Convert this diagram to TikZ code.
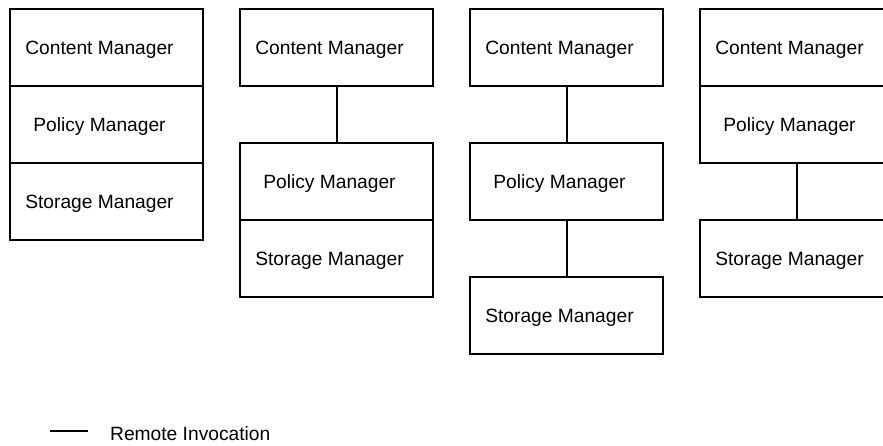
\documentclass[tikz,border=0pt]{standalone}
\usepackage{fontspec}
\setmainfont{Liberation Sans}
\usetikzlibrary{positioning}
\tikzset{layer/.style={rectangle,draw=black,line width=2pt,outer sep=0pt,inner sep=0pt,
  minimum width=193pt,minimum height=77pt,
  label={[xshift=-7pt,text height=13.7pt,text depth=0pt]center:#1}}}
\tikzstyle{link}=[draw,line width=2pt]

\begin{document}
\begin{tikzpicture}[x=1pt,y=-1pt,font=\fontsize{19.2}{23}\selectfont]
    \useasboundingbox (0,0) rectangle (883,445);

    % one process
    \node[layer=Content Manager,anchor=north west] (cm1) at (10,9) {};
    \node[layer=Policy Manager,below=0pt of cm1] (pm1) {};
    \node[layer=Storage Manager,below=0pt of pm1] (sm1) {};

    % content manager apart
    \node[layer=Content Manager,anchor=north west] (cm2) at (240,9) {};
    \node[layer=Policy Manager,below=57pt of cm2] (pm2) {};
    \node[layer=Storage Manager,below=0pt of pm2] (sm2) {};
    \draw[link] (cm2) -- (pm2);

    % all apart
    \node[layer=Content Manager,anchor=north west] (cm3) at (470,9) {};
    \node[layer=Policy Manager,below=57pt of cm3] (pm3) {};
    \node[layer=Storage Manager,below=57pt of pm3] (sm3) {};
    \draw[link] (cm3) -- (pm3);
    \draw[link] (pm3) -- (sm3);

    % storage manager apart
    \node[layer=Content Manager,anchor=north west] (cm4) at (700,9) {};
    \node[layer=Policy Manager,below=0pt of cm4] (pm4) {};
    \node[layer=Storage Manager,below=57pt of pm4] (sm4) {};
    \draw[link] (pm4) -- (sm4);

    % legend
    \coordinate (lgA) at (50,431);
    \coordinate (lgB) at (88,431);
    \draw[link] (lgA) -- (lgB);
    \node[anchor=west,inner sep=0pt,text height=13.7pt,text depth=0pt] (lgtext) at (110,434) {Remote Invocation};
\end{tikzpicture}
\end{document}
